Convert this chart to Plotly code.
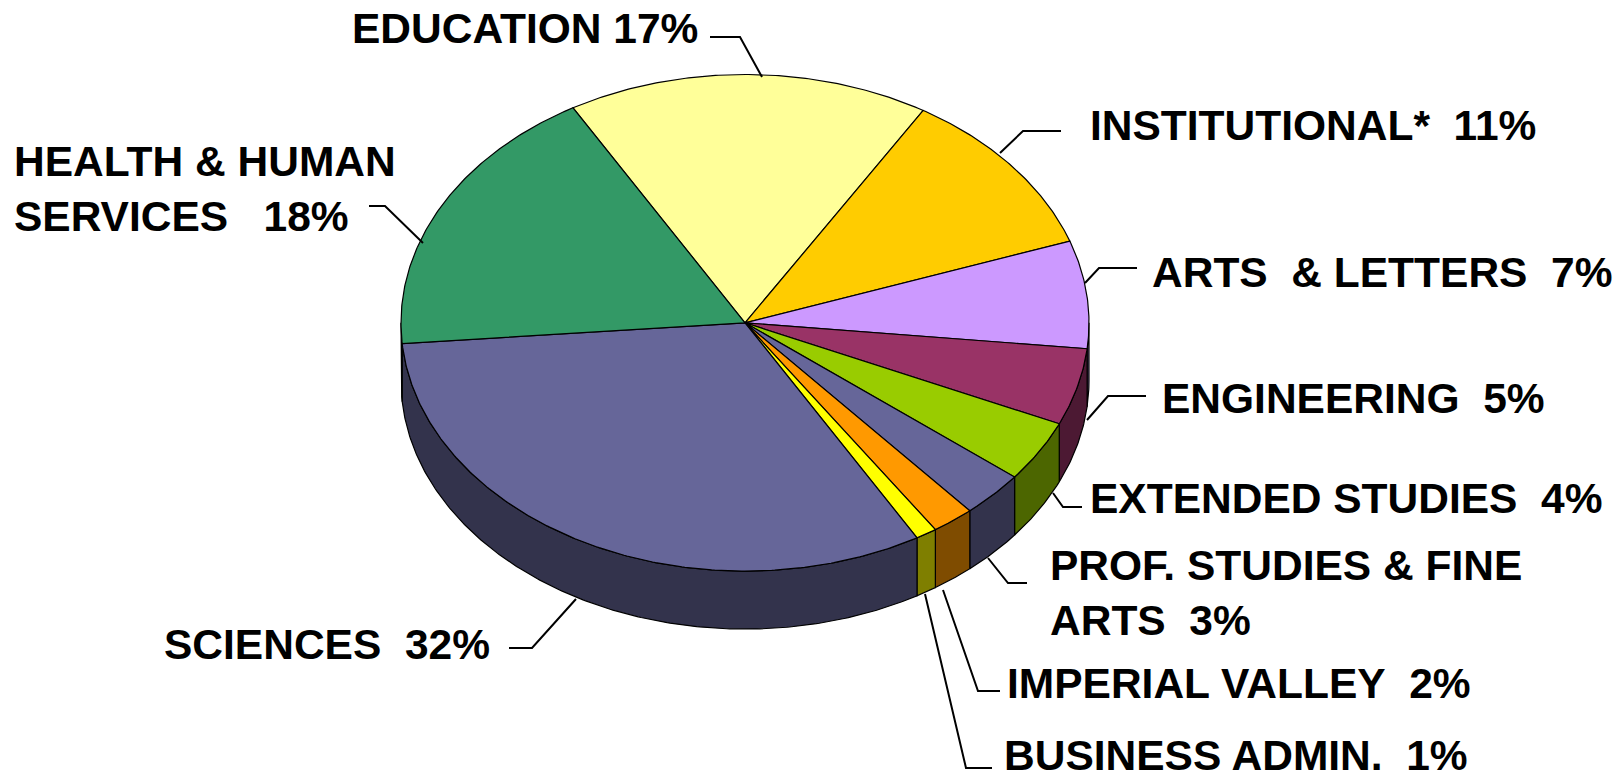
import numpy as np
import plotly.graph_objects as go

# ---------------- data ----------------
categories = ["EDUCATION", "INSTITUTIONAL*", "ARTS\u00a0\u00a0& LETTERS", "ENGINEERING",
              "EXTENDED STUDIES", "PROF. STUDIES & FINE<br>ARTS", "IMPERIAL VALLEY",
              "BUSINESS ADMIN.", "SCIENCES", "HEALTH & HUMAN<br>SERVICES"]
shares = [17, 11, 7, 5, 4, 3, 2, 1, 32, 18]
label_gaps = [1, 2, 2, 2, 2, 2, 2, 2, 2, 3]
top_colors = ["#FFFF99", "#FFCC00", "#CC99FF", "#993366", "#99CC00",
              "#666699", "#FF9900", "#FFFF00", "#666699", "#339966"]

# ---------------- layout / geometry (page pixels) ----------------
W, H = 1623, 773
PAGE_OFFSET = 8  # default body margin of the html page
CX, CY = 745.0, 322.8
A, B = 344.0, 248.3
DEPTH = 58.0
START_ANGLE = 120.0  # degrees, slices run clockwise

# label anchor (left x, middle y) and leader polylines
label_pos = [(350, 28), (1088, 125), (1150, 272), (1160, 398), (1088, 498),
             (1048, 593), (1005, 683), (1002, 755), (162, 644), (12, 189)]
leaders = [
    [(710, 37), (740, 37), (762, 77)],
    [(1061, 131), (1023, 131), (1000, 153)],
    [(1137, 268), (1099, 268), (1085, 283)],
    [(1146, 396), (1108, 396), (1087, 420)],
    [(1082, 507), (1063, 507), (1053, 493)],
    [(1027, 583), (1008, 583), (988, 558)],
    [(1000, 691), (978, 691), (943, 590)],
    [(992, 768), (966, 768), (925, 594)],
    [(509, 648), (532, 648), (576, 599)],
    [(369, 206), (385, 206), (423, 243)],
]


def darken(hexc, f=0.5):
    h = hexc.lstrip("#")
    r, g, b = (int(h[i:i + 2], 16) for i in (0, 2, 4))
    return "#%02X%02X%02X" % (int(r * f), int(g * f), int(b * f))


def arc(t0, t1, n_per_deg=2):
    n = max(2, int(abs(t1 - t0) * n_per_deg) + 1)
    t = np.radians(np.linspace(t0, t1, n))
    return CX + A * np.cos(t), CY - B * np.sin(t)


fig = go.Figure()

total = float(sum(shares))
bounds = []
cur = START_ANGLE
for v in shares:
    nxt = cur - 360.0 * v / total
    bounds.append((cur, nxt))
    cur = nxt

# side walls (front half: angles between -180 and 0)
for (t0, t1), col in zip(bounds, top_colors):
    for shift in (0.0, 360.0, -360.0):
        hi = min(t0 + shift, 0.0)
        lo = max(t1 + shift, -180.0)
        if lo < hi:
            xs, ys = arc(hi, lo)
            px = np.concatenate([xs, xs[::-1], xs[:1]])
            py = np.concatenate([ys, ys[::-1] + DEPTH, ys[:1]])
            fig.add_trace(go.Scatter(x=px, y=py, mode="lines", fill="toself",
                                     fillcolor=darken(col),
                                     line=dict(color="black", width=1.2),
                                     hoverinfo="skip", showlegend=False))

# top faces
for (t0, t1), col in zip(bounds, top_colors):
    xs, ys = arc(t0, t1)
    px = np.concatenate([[CX], xs, [CX]])
    py = np.concatenate([[CY], ys, [CY]])
    fig.add_trace(go.Scatter(x=px, y=py, mode="lines", fill="toself",
                             fillcolor=col, line=dict(color="black", width=1.2),
                             hoverinfo="skip", showlegend=False))

# leader lines
for pts in leaders:
    fig.add_trace(go.Scatter(x=[p[0] for p in pts], y=[p[1] for p in pts],
                             mode="lines", line=dict(color="black", width=2),
                             hoverinfo="skip", showlegend=False))

# labels
for name, v, gap, (lx, ly) in zip(categories, shares, label_gaps, label_pos):
    txt = "<b>" + name + "\u00a0" * gap + f"{v}%</b>"
    fig.add_annotation(x=lx, y=ly, xref="x", yref="y", text=txt, showarrow=False,
                       xanchor="left", yanchor="middle", align="left",
                       font=dict(family="Liberation Sans, Arial, sans-serif",
                                 size=42.5, color="black"))

fig.update_layout(
    width=W - PAGE_OFFSET, height=H - PAGE_OFFSET,
    margin=dict(l=0, r=0, t=0, b=0),
    paper_bgcolor="white", plot_bgcolor="white",
    showlegend=False,
    xaxis=dict(range=[PAGE_OFFSET, W], visible=False, fixedrange=True),
    yaxis=dict(range=[H, PAGE_OFFSET], visible=False, fixedrange=True),
)

fig.write_html("out.html")
